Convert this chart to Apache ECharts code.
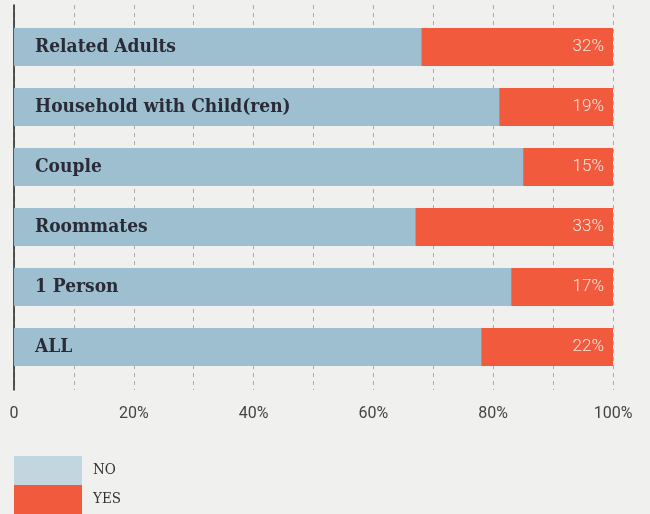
<!DOCTYPE html>
<html><head><meta charset="utf-8">
<script src="https://cdn.jsdelivr.net/npm/echarts@6/dist/echarts.min.js"></script>
<style>html,body{margin:0;padding:0;background:#f0f0ee}#c{width:650px;height:514px}</style>
</head><body><div id="c"></div>
<script>
var categories = ['Related Adults','Household with Child(ren)','Couple','Roommates','1 Person','ALL'];
var yesValues = [32, 19, 15, 33, 17, 22];
var noValues = [68, 81, 85, 67, 83, 78];
var xTicks = [0, 20, 40, 60, 80, 100];

var chart = echarts.init(document.getElementById('c'));
chart.setOption({
  backgroundColor: '#f0f0ee',
  animation: false,
  legend: {
    orient: 'vertical', left: 14, top: 456, padding: 0, itemWidth: 68, itemHeight: 29, itemGap: 0,
    icon: 'rect',
    textStyle: {fontFamily: 'DejaVu Serif Condensed', fontSize: 15, color: '#333', padding: [0,0,0,6]},
    data: [{name: 'NO', itemStyle: {color: '#c2d6e0'}}, {name: 'YES', itemStyle: {color: '#f15a3c'}}]
  },
  grid: [
    {left: 14, right: 37, top: 5, bottom: 124},
    {left: 14, right: 37, top: 17, height: 360}
  ],
  xAxis: [
    {gridIndex: 0, type: 'value', min: 0, max: 100, interval: 10,
     axisLine: {show: false}, axisTick: {show: false},
     splitLine: {show: true, lineStyle: {type: [4, 4], color: '#aaaaaa', width: 1}},
     axisLabel: {margin: 16, fontFamily: 'Roboto', fontSize: 16, color: '#444',
       formatter: function (v) { return xTicks.indexOf(v) < 0 ? '' : (v === 0 ? '0' : v + '%'); }}},
    {gridIndex: 1, type: 'value', min: 0, max: 100, show: false, splitLine: {show: false}}
  ],
  yAxis: [
    {gridIndex: 0, type: 'value', min: 0, max: 1, splitLine: {show: false}, axisLabel: {show: false},
     axisTick: {show: false}, axisLine: {show: true, lineStyle: {color: '#222', width: 1.5}}},
    {gridIndex: 1, type: 'category', inverse: true, data: categories, show: false}
  ],
  series: [
    {name: 'NO', type: 'bar', stack: 's', xAxisIndex: 1, yAxisIndex: 1, barWidth: 38,
     itemStyle: {color: '#9dbfcf'}, data: noValues,
     label: {show: true, position: 'insideLeft', distance: 21, formatter: '{b}',
       fontFamily: 'DejaVu Serif Condensed', fontWeight: 'bold', fontSize: 19, color: '#2a2b36'}},
    {name: 'YES', type: 'bar', stack: 's', xAxisIndex: 1, yAxisIndex: 1, barWidth: 38,
     itemStyle: {color: '#f15a3c'}, data: yesValues,
     label: {show: true, position: 'insideRight', distance: 9, formatter: '{c}%',
       fontFamily: 'Roboto', fontWeight: 300, fontSize: 17, color: '#fde6dd'}}
  ]
});
</script></body></html>
